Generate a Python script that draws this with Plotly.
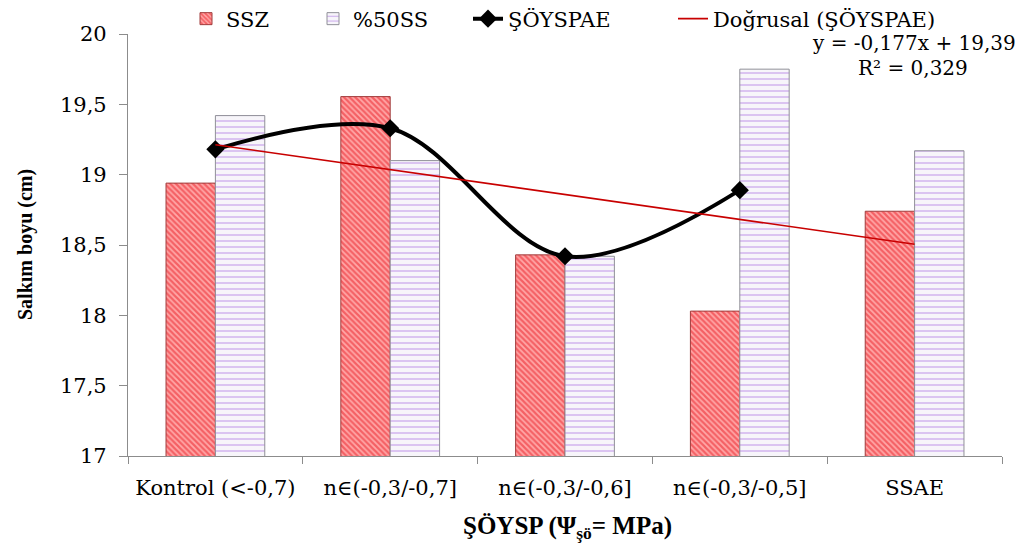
import plotly.graph_objects as go

categories = ["Kontrol (<-0,7)", "n\u2208(-0,3/-0,7]", "n\u2208(-0,3/-0,6]", "n\u2208(-0,3/-0,5]", "SSAE"]
ssz = [18.94, 19.555, 18.43, 18.03, 18.74]
ss50 = [19.42, 19.10, 18.42, 19.75, 19.17]
soyspae_cats = categories[:4]
soyspae = [19.18, 19.33, 18.42, 18.89]
trend_slope = -0.177
trend_intercept = 19.39
trend_x = [1, 5]

F_TXT = "DejaVu Serif"
F_BOLD = "Liberation Serif"

OFF = 8
W, H = 1032, 544
L, T = 120, 26
PW, PH = 874, 422
R = W - L - PW
B = H - T - PH


def px(xs):
    return (xs - OFF - L) / PW


def py(ys):
    return 1 - (ys - OFF - T) / PH


fig = go.Figure()
fig.add_trace(go.Bar(
    x=categories, y=ssz, name="SSZ", legend="legend",
    marker=dict(color="#ff8080", line=dict(color="#a03c3c", width=1),
                pattern=dict(shape="\\", fgcolor="#ea1820", bgcolor="#ffa8a8", size=4, solidity=0.55)),
))
fig.add_trace(go.Bar(
    x=categories, y=ss50, name="%50SS", legend="legend2",
    marker=dict(color="#f4f0fa", line=dict(color="#909098", width=1),
                pattern=dict(shape="-", fgcolor="#a060dc", bgcolor="#f7f5fa", size=6, solidity=0.22)),
))
fig.add_trace(go.Scatter(
    x=soyspae_cats, y=soyspae, name="\u015e\u00d6YSPAE", mode="lines+markers", legend="legend3",
    line=dict(color="black", width=4, shape="spline", smoothing=1.0),
    marker=dict(symbol="diamond", size=14, color="black"),
))
fig.add_trace(go.Scatter(
    x=[categories[i - 1] for i in trend_x],
    y=[trend_slope * i + trend_intercept for i in trend_x],
    name="Do\u011frusal (\u015e\u00d6YSPAE)", mode="lines", legend="legend4",
    line=dict(color="#c80000", width=1.6),
))

fig.add_annotation(x=px(1018), y=py(43), xref="paper", yref="paper", xanchor="right", yanchor="middle",
                   text="y = -0,177x + 19,39", showarrow=False, font=dict(family=F_TXT, size=20, color="black"))
fig.add_annotation(x=px(913), y=py(68), xref="paper", yref="paper", xanchor="center", yanchor="middle",
                   text="R\u00b2 = 0,329", showarrow=False, font=dict(family=F_TXT, size=20, color="black"))
fig.add_annotation(x=px(25), y=py(245), xref="paper", yref="paper", xanchor="center", yanchor="middle",
                   textangle=-90, text="<b>Salk\u0131m boyu (cm)</b>", showarrow=False,
                   font=dict(family=F_BOLD, size=20, color="black"))
fig.add_annotation(x=px(567), y=py(527), xref="paper", yref="paper", xanchor="center", yanchor="middle",
                   text="<b>\u015e\u00d6YSP (\u03a8<sub>\u015f\u00f6</sub>= MPa)</b>", showarrow=False,
                   font=dict(family=F_BOLD, size=25, color="black"))

leg_common = dict(orientation="h", yref="paper", y=py(19), yanchor="middle", xanchor="left",
                  font=dict(family=F_TXT, size=21, color="black"), itemwidth=30,
                  bgcolor="rgba(0,0,0,0)", borderwidth=0)
text_starts = {"legend": 226, "legend2": 353, "legend3": 508, "legend4": 713}
legends = {k: dict(leg_common, x=px(v - 40)) for k, v in text_starts.items()}

fig.update_layout(
    width=W, height=H,
    margin=dict(l=L, r=R, t=T, b=B, autoexpand=False),
    paper_bgcolor="white", plot_bgcolor="white",
    separators=",.",
    barmode="group", bargap=0.435, bargroupgap=0,
    font=dict(family=F_TXT, size=21, color="black"),
    showlegend=True,
    **legends,
)
fig.update_xaxes(
    type="category", showline=True, linecolor="#8c8c8c", linewidth=1.2,
    ticks="outside", tickson="boundaries", ticklen=7, tickcolor="#8c8c8c",
    showgrid=False, ticklabelstandoff=13, automargin=False,
    tickfont=dict(family=F_TXT, size=21),
)
fig.update_yaxes(
    range=[17, 20], dtick=0.5, tickformat=".1~f",
    showline=True, linecolor="#8c8c8c", linewidth=1.2,
    ticks="outside", ticklen=8, tickcolor="#8c8c8c",
    showgrid=False, zeroline=False, automargin=False, ticklabelstandoff=8,
    tickfont=dict(family=F_TXT, size=21),
)

fig.write_html("out.html")
